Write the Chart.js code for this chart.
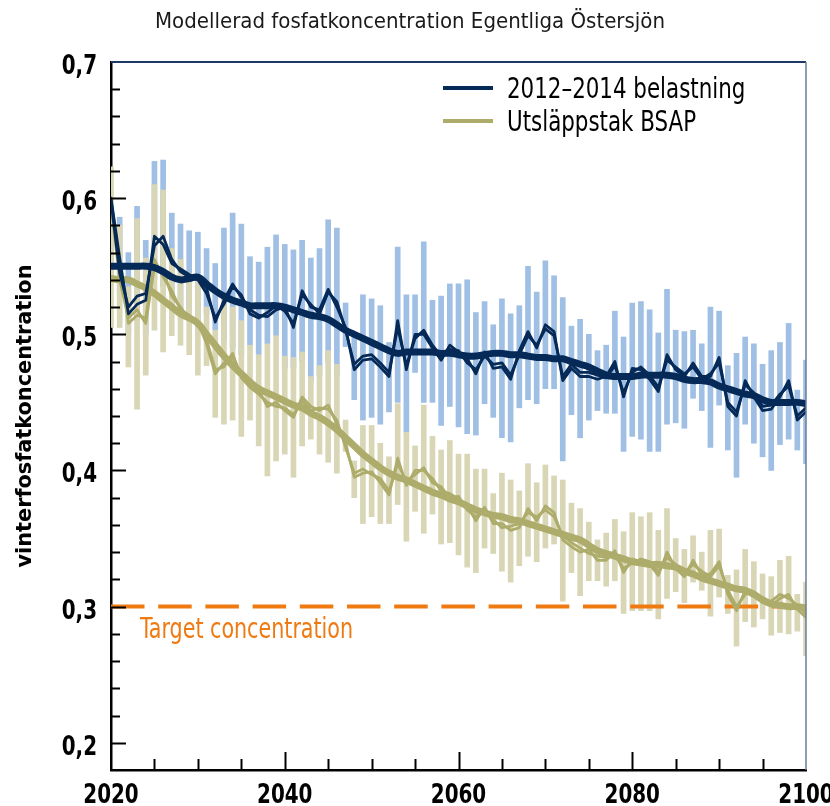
<!DOCTYPE html>
<html lang="sv">
<head>
<meta charset="utf-8">
<title>Modellerad fosfatkoncentration Egentliga Östersjön</title>
<script src="https://cdn.jsdelivr.net/npm/chart.js@4.4.1/dist/chart.umd.min.js"></script>
<style>
  html, body { margin: 0; padding: 0; background: #fff; }
  #wrap { width: 830px; height: 806px; }
</style>
</head>
<body>
<div id="wrap"><canvas id="chart" width="830" height="806"></canvas></div>
<script>
/* ================= DATA ================= */

const titleText = "Modellerad fosfatkoncentration Egentliga Östersjön";
const yTitle = "vinterfosfatkoncentration";
const seriesNames = ["2012–2014 belastning", "Utsläppstak BSAP"];
const targetLabel = "Target concentration";
const targetValue = 0.3;

const firstYear = 2020;
const lastYear = 2100;
const xTicks = [2020, 2040, 2060, 2080, 2100];
const yTicks = [0.2, 0.3, 0.4, 0.5, 0.6, 0.7];

// 2012–2014 belastning (2020 ... 2100, one value per year)
const navySmooth = [
  .550,.550,.550,.550,.550,.549,.546,.542,.540,.541,
  .542,.537,.532,.528,.525,.523,.521,.521,.521,.521,
  .520,.518,.516,.514,.513,.511,.507,.503,.500,.497,
  .494,.491,.488,.486,.487,.487,.487,.487,.486,.486,
  .485,.484,.484,.485,.486,.486,.485,.485,.484,.483,
  .483,.482,.482,.480,.478,.476,.473,.470,.469,.469,
  .469,.470,.470,.470,.470,.469,.467,.466,.466,.465,
  .462,.460,.458,.456,.455,.452,.450,.450,.450,.450,
  .449
];
const navyRunA = [
  .600,.556,.515,.522,.525,.572,.566,.552,.548,.544,
  .541,.534,.509,.525,.537,.527,.518,.514,.513,.518,
  .520,.505,.532,.520,.518,.533,.520,.505,.474,.481,
  .482,.476,.469,.510,.474,.500,.500,.490,.481,.492,
  .487,.482,.471,.487,.475,.476,.467,.488,.502,.490,
  .507,.502,.466,.475,.469,.469,.467,.469,.480,.454,
  .475,.474,.467,.458,.485,.474,.469,.479,.469,.469,
  .483,.447,.440,.466,.454,.444,.445,.454,.466,.437,
  .443
];
const navyRunB = [
  .598,.545,.520,.528,.530,.565,.572,.555,.546,.542,
  .540,.530,.512,.522,.535,.529,.515,.512,.516,.521,
  .517,.508,.529,.522,.515,.531,.524,.503,.478,.484,
  .485,.479,.472,.505,.477,.497,.503,.492,.484,.489,
  .488,.479,.474,.484,.478,.479,.470,.485,.499,.492,
  .504,.499,.469,.478,.472,.472,.470,.468,.477,.457,
  .472,.476,.470,.461,.481,.476,.471,.476,.467,.471,
  .479,.450,.443,.463,.457,.447,.448,.456,.462,.440,
  .446
];
const navyLow = [
  .540,.530,.500,.510,.500,.540,.535,.520,.515,.510,
  .505,.515,.503,.495,.490,.485,.492,.485,.493,.499,
  .475,.475,.480,.465,.470,.480,.470,.491,.452,.437,
  .439,.434,.443,.450,.428,.472,.450,.450,.433,.447,
  .432,.427,.426,.449,.439,.424,.421,.446,.452,.449,
  .460,.460,.407,.441,.424,.437,.444,.442,.442,.414,
  .425,.423,.414,.414,.434,.435,.431,.453,.444,.417,
  .448,.415,.395,.434,.420,.410,.400,.419,.423,.415,
  .405
];
const navyHigh = [
  .590,.586,.560,.594,.569,.627,.628,.589,.581,.576,
  .575,.563,.552,.578,.589,.581,.557,.553,.564,.573,
  .566,.562,.569,.556,.563,.584,.578,.523,.500,.529,
  .526,.521,.494,.564,.529,.529,.568,.525,.528,.537,
  .537,.540,.516,.524,.507,.526,.515,.521,.550,.531,
  .554,.543,.527,.506,.511,.500,.488,.492,.517,.498,
  .523,.524,.518,.501,.533,.503,.502,.503,.493,.520,
  .517,.477,.486,.498,.493,.478,.488,.494,.508,.459,
  .481
];

// Utsläppstak BSAP
const khakiSmooth = [
  .541,.540,.540,.537,.534,.530,.525,.520,.515,.512,
  .508,.500,.492,.484,.477,.471,.465,.460,.457,.454,
  .451,.448,.446,.442,.439,.435,.430,.424,.418,.412,
  .407,.402,.398,.395,.393,.390,.387,.384,.382,.379,
  .377,.374,.371,.369,.367,.366,.364,.363,.361,.359,
  .357,.355,.353,.351,.349,.345,.341,.339,.337,.335,
  .333,.332,.331,.331,.330,.329,.326,.324,.321,.319,
  .317,.315,.313,.312,.309,.305,.302,.301,.300,.300,
  .299
];
const khakiRunA = [
  .600,.552,.508,.514,.512,.555,.542,.532,.518,.514,
  .509,.493,.471,.479,.483,.471,.464,.459,.447,.450,
  .444,.439,.454,.447,.444,.448,.434,.420,.395,.398,
  .399,.391,.382,.409,.389,.400,.400,.394,.385,.383,
  .379,.374,.363,.373,.361,.361,.356,.358,.372,.363,
  .374,.369,.349,.344,.340,.342,.334,.334,.341,.325,
  .335,.333,.331,.323,.340,.328,.322,.334,.323,.324,
  .333,.309,.297,.312,.308,.306,.301,.306,.309,.298,
  .292
];
const khakiRunB = [
  .595,.540,.512,.518,.508,.550,.547,.528,.520,.511,
  .507,.496,.474,.476,.486,.468,.461,.456,.450,.447,
  .446,.441,.451,.444,.446,.445,.437,.417,.398,.401,
  .397,.394,.385,.405,.392,.397,.402,.391,.388,.380,
  .381,.371,.366,.370,.364,.358,.359,.361,.369,.366,
  .371,.366,.352,.347,.343,.339,.337,.336,.338,.328,
  .332,.335,.333,.326,.336,.331,.325,.331,.326,.322,
  .330,.312,.300,.309,.311,.303,.304,.309,.306,.301,
  .295
];
const khakiLow = [
  .505,.505,.476,.445,.470,.503,.487,.499,.492,.485,
  .470,.477,.439,.434,.437,.425,.437,.418,.396,.407,
  .412,.395,.418,.423,.412,.406,.398,.414,.380,.361,
  .366,.361,.361,.375,.348,.370,.354,.368,.346,.347,
  .338,.329,.325,.343,.339,.326,.318,.330,.337,.333,
  .343,.346,.304,.325,.308,.319,.319,.315,.319,.295,
  .297,.297,.297,.291,.306,.311,.303,.318,.312,.293,
  .307,.295,.271,.289,.285,.291,.279,.281,.280,.282,
  .264
];
const khakiHigh = [
  .623,.580,.535,.585,.556,.610,.606,.563,.555,.545,
  .540,.520,.503,.525,.520,.510,.492,.485,.493,.499,
  .484,.483,.487,.469,.477,.488,.478,.437,.407,.433,
  .433,.420,.410,.449,.428,.418,.448,.425,.415,.422,
  .412,.412,.401,.401,.383,.398,.393,.385,.405,.391,
  .404,.396,.393,.376,.372,.362,.349,.354,.364,.355,
  .369,.366,.369,.356,.372,.350,.342,.352,.340,.356,
  .357,.323,.327,.342,.333,.324,.322,.334,.337,.309,
  .318
];

/* ================= STYLE ================= */

const COND = "'DejaVu Sans Condensed', 'DejaVu Sans', sans-serif";
const SQUEEZE = 0.82;   // extra horizontal squeeze, the original face is narrower
const NAVY = "#062a58";
const KHAKI = "#aeac6b";
const BLUE_BAR = "#9fbfe4";
const KHAKI_BAR = "#d8d6b5";
const ORANGE = "#ef7a12";

const years = [];
for (let yr = firstYear; yr <= lastYear; yr++) years.push(yr);

const pts = arr => years.map((x, i) => ({ x, y: arr[i] }));
const ranges = (lo, hi) => years.map((x, i) => ({ x, y: [lo[i], hi[i]] }));

// text drawn with a horizontal squeeze
function squeezedText(ctx, text, x, y, sx, align) {
  ctx.save();
  ctx.translate(x, y);
  ctx.scale(sx, 1);
  ctx.textAlign = align;
  ctx.fillText(text, 0, 0);
  ctx.restore();
}

/* ================= PLUGINS ================= */

// inward tick marks + top/right frame
const frameTicks = {
  id: "frameTicks",
  afterDatasetsDraw(chart) {
    const { ctx, chartArea: a, scales: { x, y } } = chart;
    ctx.save();
    ctx.strokeStyle = "#1d3a66";
    ctx.lineWidth = 2;
    ctx.beginPath();
    ctx.moveTo(a.left, a.top);
    ctx.lineTo(a.right, a.top);
    ctx.stroke();
    ctx.strokeStyle = "#6a7d9c";
    ctx.lineWidth = 1.5;
    ctx.beginPath();
    ctx.moveTo(a.right, a.top);
    ctx.lineTo(a.right, a.bottom);
    ctx.stroke();

    ctx.strokeStyle = "#000";
    ctx.lineWidth = 2;
    for (let k = 10; k <= 34; k++) {
      const py = Math.round(y.getPixelForValue(k / 50)) + 0.5;
      const len = k % 5 === 0 ? 15 : 9;
      ctx.beginPath();
      ctx.moveTo(a.left, py);
      ctx.lineTo(a.left + len, py);
      ctx.stroke();
    }
    for (let yr = firstYear + 5; yr < lastYear; yr += 5) {
      const px = Math.round(x.getPixelForValue(yr)) + 0.5;
      const len = yr % 20 === 0 ? 18 : 11;
      ctx.beginPath();
      ctx.moveTo(px, a.bottom);
      ctx.lineTo(px, a.bottom - len);
      ctx.stroke();
    }
    ctx.restore();
  }
};

// all texts: title, axis title, tick labels, legend, target label
const labels = {
  id: "labels",
  afterDraw(chart) {
    const { ctx, chartArea: a, scales: { x, y } } = chart;
    ctx.save();
    ctx.textBaseline = "alphabetic";

    // title, fitted to the original width
    ctx.fillStyle = "#1a1a1a";
    ctx.font = "21px " + COND;
    const tw = ctx.measureText(titleText).width;
    squeezedText(ctx, titleText, 410, 28, 510 / tw, "center");

    // y axis title
    ctx.fillStyle = "#000";
    ctx.font = "bold 21px " + COND;
    const yw = ctx.measureText(yTitle).width;
    ctx.save();
    ctx.translate(31, (a.top + a.bottom) / 2);
    ctx.rotate(-Math.PI / 2);
    squeezedText(ctx, yTitle, 0, 0, 303 / yw, "center");
    ctx.restore();

    // tick labels
    ctx.font = "bold 27px " + COND;
    yTicks.forEach(v => {
      squeezedText(ctx, v.toFixed(1).replace(".", ","), a.left - 14,
        y.getPixelForValue(v) + 12, SQUEEZE, "right");
    });
    xTicks.forEach(v => {
      squeezedText(ctx, String(v), x.getPixelForValue(v), 803, SQUEEZE, "center");
    });

    // legend
    const colors = [NAVY, KHAKI];
    ctx.font = "29px " + COND;
    seriesNames.forEach((name, i) => {
      const ly = a.top + 26 + i * 33;
      ctx.strokeStyle = colors[i];
      ctx.lineWidth = 4;
      ctx.beginPath();
      ctx.moveTo(a.right - 363, ly);
      ctx.lineTo(a.right - 313, ly);
      ctx.stroke();
      ctx.fillStyle = "#000";
      squeezedText(ctx, name, a.right - 299, ly + 10, SQUEEZE, "left");
    });

    // target label
    ctx.font = "28px " + COND;
    ctx.fillStyle = ORANGE;
    squeezedText(ctx, targetLabel, a.left + 29, y.getPixelForValue(targetValue) + 31, SQUEEZE, "left");
    ctx.restore();
  }
};

/* ================= CHART ================= */

const lineBase = { type: "line", pointRadius: 0, fill: false, borderJoinStyle: "round", borderCapStyle: "round" };

new Chart(document.getElementById("chart"), {
  type: "bar",
  data: {
    datasets: [
      { label: "range 1", data: ranges(navyLow, navyHigh), backgroundColor: BLUE_BAR,
        barThickness: 5, grouped: false, order: 20, clip: 0 },
      { label: "range 2", data: ranges(khakiLow, khakiHigh), backgroundColor: KHAKI_BAR,
        barThickness: 5, grouped: false, order: 19, clip: 0 },
      { ...lineBase, label: "target", data: [{ x: firstYear, y: targetValue }, { x: lastYear, y: targetValue }],
        borderColor: ORANGE, borderWidth: 4, borderDash: [33.5, 13.7], borderCapStyle: "butt", order: 18 },
      { ...lineBase, label: "k a", data: pts(khakiRunA), borderColor: KHAKI, borderWidth: 2.8, order: 17 },
      { ...lineBase, label: "k b", data: pts(khakiRunB), borderColor: KHAKI, borderWidth: 2.8, order: 16 },
      { ...lineBase, label: seriesNames[1], data: pts(khakiSmooth), borderColor: KHAKI, borderWidth: 7,
        tension: 0.4, order: 15 },
      { ...lineBase, label: "n a", data: pts(navyRunA), borderColor: NAVY, borderWidth: 2.8, order: 14 },
      { ...lineBase, label: "n b", data: pts(navyRunB), borderColor: NAVY, borderWidth: 2.8, order: 13 },
      { ...lineBase, label: seriesNames[0], data: pts(navySmooth), borderColor: NAVY, borderWidth: 7,
        tension: 0.4, order: 12 }
    ]
  },
  options: {
    responsive: false,
    devicePixelRatio: 1,
    animation: false,
    layout: { padding: { left: 0, right: 24, top: 62, bottom: 0 } },
    plugins: {
      legend: { display: false },
      tooltip: { enabled: false },
      title: { display: false }
    },
    scales: {
      x: {
        type: "linear",
        min: firstYear,
        max: lastYear,
        offset: false,
        grid: { display: false, drawTicks: false },
        border: { display: true, color: "#000", width: 2.5 },
        ticks: { display: false },
        afterBuildTicks: s => { s.ticks = xTicks.map(v => ({ value: v })); },
        afterFit: s => { s.height = 36; s.paddingLeft = 0; s.paddingRight = 0; }
      },
      y: {
        min: 0.18,
        max: 0.7,
        grid: { display: false, drawTicks: false },
        border: { display: true, color: "#000", width: 2.5 },
        ticks: { display: false },
        afterBuildTicks: s => { s.ticks = yTicks.map(v => ({ value: v })); },
        afterFit: s => { s.width = 111; s.paddingTop = 0; s.paddingBottom = 0; }
      }
    }
  },
  plugins: [frameTicks, labels]
});
</script>
</body>
</html>
